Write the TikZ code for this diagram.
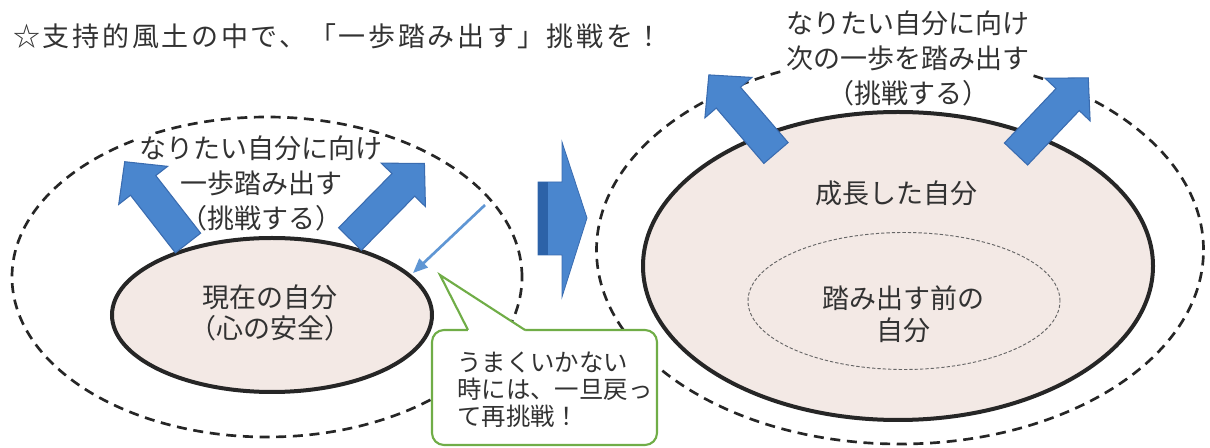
\documentclass[tikz,border=0pt]{standalone}
\usepackage{fontspec}
\setmainfont{Noto Sans CJK JP}
\usetikzlibrary{shapes.geometric,arrows.meta}
\definecolor{txt}{RGB}{50,50,50}
\definecolor{blu}{RGB}{74,134,206}
\definecolor{bluedge}{RGB}{58,108,176}
\definecolor{bludark}{RGB}{44,98,168}
\definecolor{thinblu}{RGB}{95,150,212}
\definecolor{pinkfill}{RGB}{243,233,229}
\definecolor{callgreen}{RGB}{112,173,71}
\newcommand\fatarr[3]{\draw[fatarrow, shift={(#1)}, rotate=#2] (0,-16) -- (#3-30,-16) -- (#3-30,-31) -- (#3,0) -- (#3-30,31) -- (#3-30,16) -- (0,16) -- cycle;}
\begin{document}
\begin{tikzpicture}[x=0.75pt,y=-0.75pt,
  outerdash/.style={ellipse, draw=black!85, line width=2pt, dash pattern=on 7.5pt off 5pt, inner sep=0pt, outer sep=0pt},
  selfell/.style={ellipse, draw=black!85, fill=pinkfill, line width=3pt, inner sep=0pt, outer sep=0pt},
  innerdash/.style={ellipse, draw=black!60, line width=0.7pt, dash pattern=on 2.5pt off 1.5pt, inner sep=0pt, outer sep=0pt},
  fatarrow/.style={fill=blu, draw=bluedge, line width=0.8pt, line join=miter},
  lbl/.style={text=txt, font=\fontsize{20.25}{26.5}\selectfont, align=center, inner sep=1pt},
  lblw/.style={lbl, fill=white},
  thinarrow/.style={draw=thinblu, line width=2pt, -{Triangle[length=11pt,width=9pt]}},
  calloutbox/.style={draw=callgreen, fill=white, line width=1.6pt, rounded corners=9pt}
]
\useasboundingbox (0,0) rectangle (1210,448);
% title
\node[text=txt, font=\fontsize{20.25}{24}\selectfont\addfontfeature{LetterSpace=10}, anchor=west, inner sep=0pt] (title) at (13,36) {☆支持的風土の中で、「一歩踏み出す」挑戦を！};
% left group
\node[outerdash, minimum width=382.5pt, minimum height=240pt] (lo) at (267,277) {};
\node[selfell, minimum width=240pt, minimum height=115.5pt] (cur) at (272,315) {};
\node[lbl, font=\fontsize{20.25}{23.5}\selectfont] (curtxt) at (270,313) {現在の自分\\（心の安全）};
\node[lblw, font=\fontsize{20.25}{26.25}\selectfont] (ltxt) at (261,183) {なりたい自分に向け\\一歩踏み出す\\（挑戦する）};
\fatarr{188,243}{127.9}{103}
\fatarr{350,239}{45.4}{106}
\coordinate (tstart) at (485,205);
\coordinate (tend) at (413,273);
\draw[thinarrow] (tstart) -- (tend);
% right group
\node[outerdash, minimum width=455.25pt, minimum height=291pt] (ro) at (900,250) {};
\node[selfell, minimum width=382.5pt, minimum height=231pt] (grown) at (898,266) {};
\node[innerdash, minimum width=234pt, minimum height=102.75pt] (before) at (904,301) {};
\node[lbl] (grtxt) at (896,193) {成長した自分};
\node[lbl, font=\fontsize{20.25}{24}\selectfont] (betxt) at (903,314) {踏み出す前の\\自分};
\node[lblw, font=\fontsize{20.25}{26.5}\selectfont] (rtxt) at (908,58.5) {なりたい自分に向け\\次の一歩を踏み出す\\（挑戦する）};
\fatarr{776,153}{130.7}{103}
\fatarr{1016,154}{46.5}{105}
% block arrow
\draw[fill=blu, draw=bluedge, line width=0.6pt] (538,182) -- (562,182) -- (562,142) -- (587,218) -- (562,297) -- (562,255) -- (538,255) -- cycle;
\fill[bludark] (538.4,182.4) rectangle (548,254.6);
% callout
\draw[calloutbox] (432,330) rectangle (657,445);
\fill[white] (468,332) -- (468,330) -- (440,275) -- (525,330) -- (525,332) -- cycle;
\draw[draw=callgreen, line width=1.6pt, line join=miter] (468,330) -- (440,275) -- (525,330);
\node[text=txt, font=\fontsize{18.3}{20.25}\selectfont, align=left, anchor=west, inner sep=0pt] (calltxt) at (457,390) {うまくいかない\\時には、一旦戻っ\\て再挑戦！};
\end{tikzpicture}
\end{document}
